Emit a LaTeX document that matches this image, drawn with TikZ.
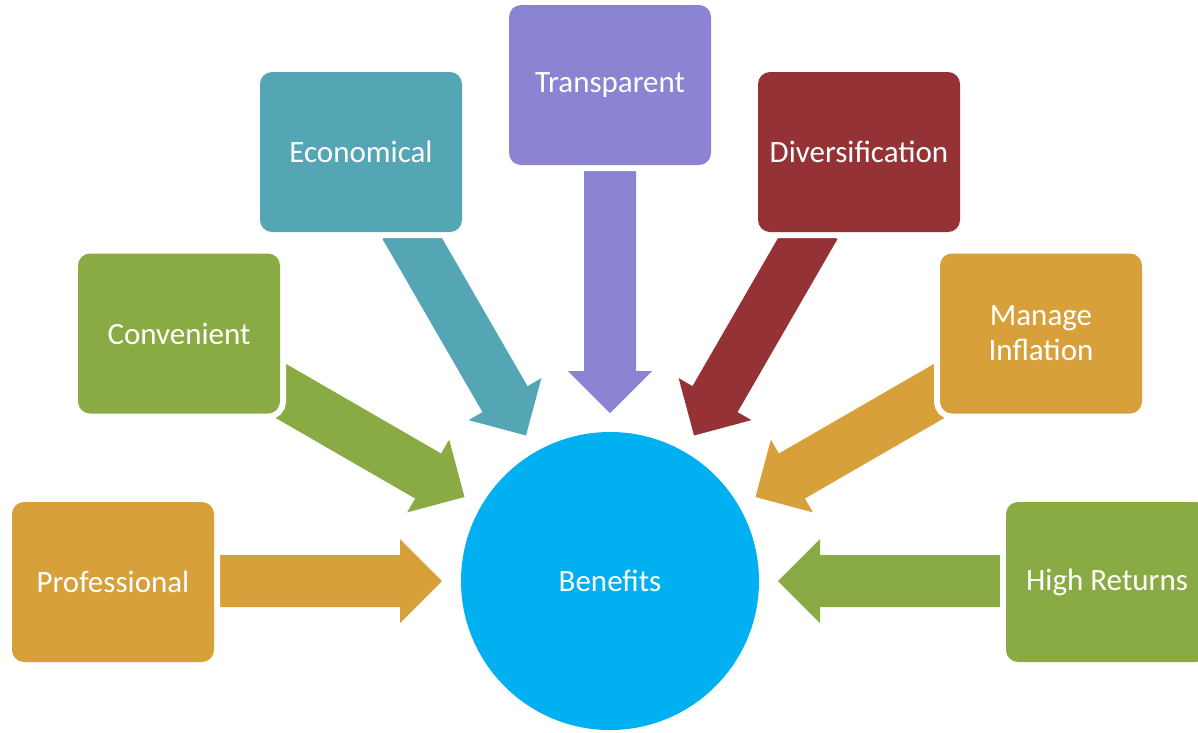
\documentclass[tikz,border=0pt]{standalone}
\usepackage{fontspec}
\setmainfont{Carlito}
\usetikzlibrary{calc,backgrounds}
\definecolor{cOrange}{HTML}{D7A03B}
\definecolor{cGreen}{HTML}{8AAB43}
\definecolor{cTeal}{HTML}{55A6B5}
\definecolor{cPurple}{HTML}{8A84D3}
\definecolor{cRed}{HTML}{943235}
\definecolor{cBlue}{HTML}{00B0F0}
\newcommand\myblockarrow[3]{%
  \coordinate (ba-h) at ($(#3)!42pt!(#2)$);
  \fill[#1] ($(#2)!26pt!90:(#3)$) -- ($(ba-h)!26pt!90:(#3)$) -- ($(ba-h)!42pt!90:(#3)$) -- (#3)
    -- ($(ba-h)!42pt!-90:(#3)$) -- ($(ba-h)!26pt!-90:(#3)$) -- ($(#2)!26pt!-90:(#3)$) -- cycle;
}
\begin{document}
\begin{tikzpicture}[x=1pt,y=-1pt,
  box/.style={fill=#1, rounded corners=12pt, minimum width=202pt, minimum height=160pt,
    inner sep=0pt, text=white, font=\fontsize{31}{35}\selectfont, align=center,
    preaction={draw=white, line width=12pt}},
  hub/.style={circle, fill=cBlue, minimum size=298pt, inner sep=0pt, text=white,
    font=\fontsize{31}{35}\selectfont}]
\useasboundingbox (0,0) rectangle (1198,732);
\clip (0,0) rectangle (1198,732);
% hub
\node[hub] (ben) at (610,581) {Benefits};
% boxes
\node[box=cOrange] (pro) at (113,582) {Professional};
\node[box=cGreen] (con) at (179,333.5) {Convenient};
\node[box=cTeal] (eco) at (361,152) {Economical};
\node[box=cPurple] (tra) at (610,85) {Transparent};
\node[box=cRed] (div) at (859,152) {Diversification};
\node[box=cOrange] (inf) at (1041,333.5) {Manage\\Inflation};
\node[box=cGreen] (hig) at (1107,582) {High Returns};
% arrow ends
\coordinate (pro-t) at ($(ben.center)+(-410,0)$);
\coordinate (pro-e) at ($(ben.center)+(-168,0)$);
\coordinate (con-t) at ($(ben.center)+(-355,-205)$);
\coordinate (con-e) at ($(ben.center)+(-145.5,-84)$);
\coordinate (eco-t) at ($(ben.center)+(-205,-355)$);
\coordinate (eco-e) at ($(ben.center)+(-84,-145.5)$);
\coordinate (tra-t) at ($(ben.center)+(0,-410)$);
\coordinate (tra-e) at ($(ben.center)+(0,-168)$);
\coordinate (div-t) at ($(ben.center)+(205,-355)$);
\coordinate (div-e) at ($(ben.center)+(84,-145.5)$);
\coordinate (inf-t) at ($(ben.center)+(355,-205)$);
\coordinate (inf-e) at ($(ben.center)+(145.5,-84)$);
\coordinate (hig-t) at ($(ben.center)+(410,0)$);
\coordinate (hig-e) at ($(ben.center)+(168,0)$);
\begin{pgfonlayer}{background}
\fill[white] (0,0) rectangle (1198,732);
\myblockarrow{cOrange}{pro-t}{pro-e}
\myblockarrow{cGreen}{con-t}{con-e}
\myblockarrow{cTeal}{eco-t}{eco-e}
\myblockarrow{cPurple}{tra-t}{tra-e}
\myblockarrow{cRed}{div-t}{div-e}
\myblockarrow{cOrange}{inf-t}{inf-e}
\myblockarrow{cGreen}{hig-t}{hig-e}
\end{pgfonlayer}
\end{tikzpicture}
\end{document}
